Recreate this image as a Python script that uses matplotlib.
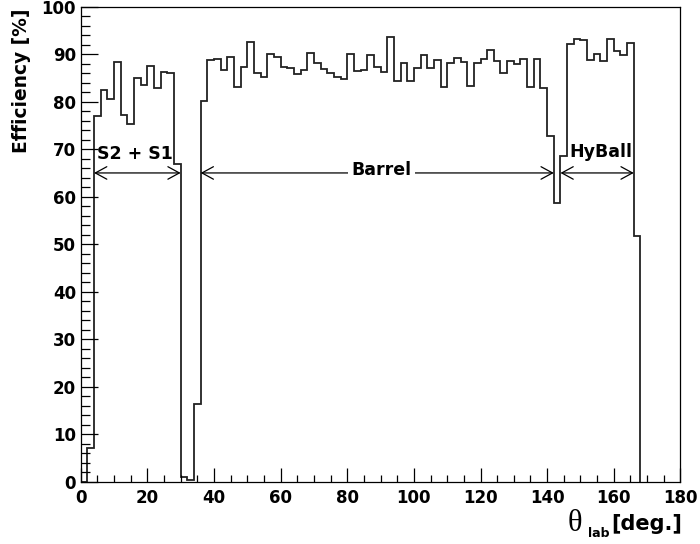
import matplotlib
matplotlib.use('Agg')
import matplotlib.pyplot as plt
import numpy as np
from matplotlib.ticker import MultipleLocator

# 2 degree bins from 0 to 168 deg
bin_edges = np.arange(0, 170, 2)
efficiency = [
    0.0, 7.0, 77.0, 82.5, 80.6, 88.3, 77.1, 75.4, 84.9, 83.6,
    87.6, 82.8, 86.3, 86.1, 66.8, 1.0, 0.3, 16.4, 80.1, 88.8,
    89.0, 86.7, 89.5, 83.0, 87.4, 92.6, 86.1, 85.3, 90.0, 89.5,
    87.2, 87.0, 85.8, 86.7, 90.3, 88.1, 86.9, 86.0, 85.1, 84.8,
    90.1, 86.5, 86.7, 89.9, 87.3, 86.2, 93.6, 84.4, 88.1, 84.4,
    87.0, 89.8, 87.0, 88.7, 83.1, 88.2, 89.2, 88.4, 83.4, 88.2,
    88.9, 90.9, 88.6, 86.0, 88.5, 88.0, 88.9, 83.1, 88.9, 82.9,
    72.8, 58.6, 68.6, 92.1, 93.3, 93.0, 88.8, 90.0, 88.6, 93.2,
    90.7, 89.8, 92.3, 51.7,
]

# detector regions: (label, theta start, theta end)
regions = [('S2 + S1', 4, 30), ('Barrel', 36, 142), ('HyBall', 144, 166)]
arrow_level = 65

plt.rcParams['font.family'] = ['DejaVu Sans']
plt.rcParams['font.weight'] = 'bold'

fig = plt.figure(figsize=(7, 5.44), dpi=100)
ax = fig.add_axes([0.1153, 0.1145, 0.8567, 0.8732])

ax.stairs(efficiency, bin_edges, baseline=0, color='#222222', lw=1.3)

ax.set_xlim(0, 180)
ax.set_ylim(0, 100)
ax.xaxis.set_major_locator(MultipleLocator(20))
ax.xaxis.set_minor_locator(MultipleLocator(5))
ax.yaxis.set_major_locator(MultipleLocator(10))
ax.yaxis.set_minor_locator(MultipleLocator(2))
ax.tick_params(axis='both', which='both', direction='in', top=False, right=False,
               width=0.9, labelsize=12)
ax.tick_params(axis='x', which='major', length=10, pad=5)
ax.tick_params(axis='x', which='minor', length=5)
ax.tick_params(axis='y', which='major', length=12.5, pad=3.4)
ax.tick_params(axis='y', which='minor', length=6.3)
for lab in ax.get_xticklabels() + ax.get_yticklabels():
    lab.set_fontweight('bold')
for sp in ax.spines.values():
    sp.set_linewidth(0.9)

# region arrows
for name, a, b in regions:
    ax.annotate('', xy=(a, arrow_level), xytext=(b, arrow_level),
                arrowprops=dict(arrowstyle='<->,head_length=0.55,head_width=0.3',
                                mutation_scale=15, lw=0.9, color='black',
                                shrinkA=0, shrinkB=0))

ax.text(4.8, 67.9, 'S2 + S1', fontsize=12.5, fontweight='bold', ha='left', va='baseline')
ax.text(90.3, 65.6, 'Barrel', fontsize=12.5, fontweight='bold', ha='center', va='center',
        bbox=dict(facecolor='white', edgecolor='none', pad=2.5), zorder=5)
ax.text(146.6, 68.3, 'HyBall', fontsize=12.5, fontweight='bold', ha='left', va='baseline')

# axis titles
fig.text(0.031, 0.9847, 'Efficiency [%]', rotation=90, ha='center', va='top',
         fontsize=13.4, fontweight='bold')
fig.text(0.8114, 0.0239, '\u03b8', family='Liberation Serif', fontsize=22,
         fontweight='normal', ha='left', va='baseline')
fig.text(0.8400, 0.0129, 'lab', fontsize=9, fontweight='bold', ha='left', va='baseline')
fig.text(0.9743, 0.0257, '[deg.]', fontsize=15, fontweight='bold', ha='right', va='baseline')

fig.savefig('out.png', dpi=100)
